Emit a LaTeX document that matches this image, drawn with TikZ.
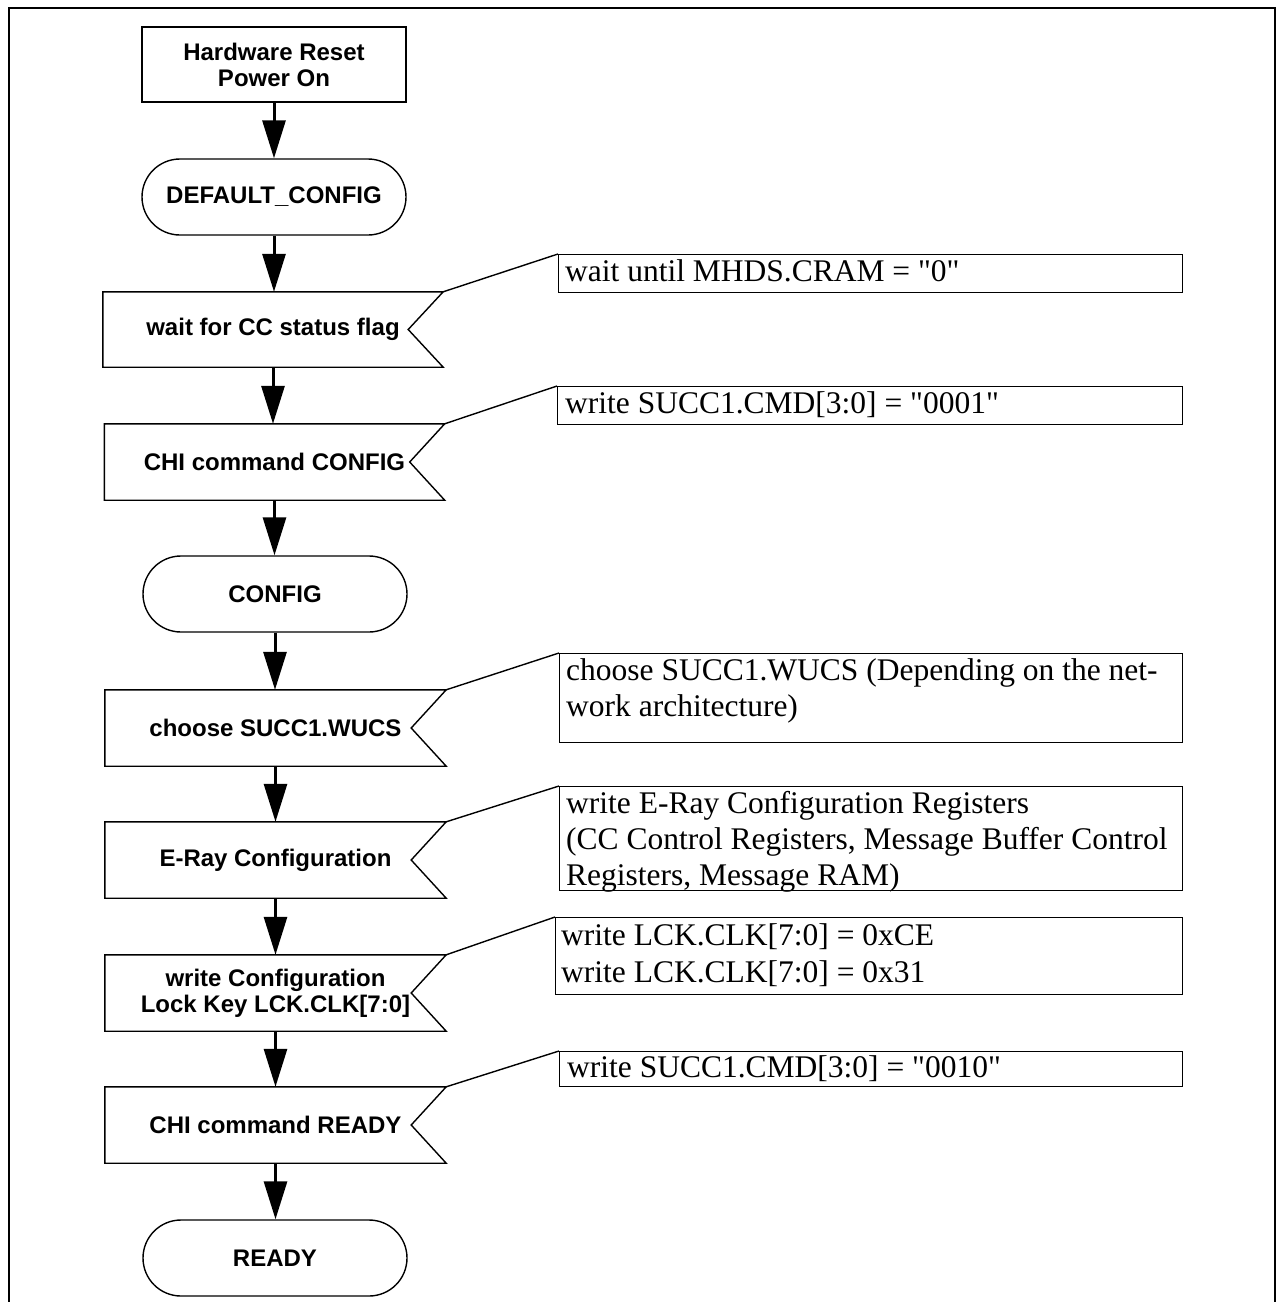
\documentclass[tikz,border=0pt]{standalone}
\usepackage{fontspec}
\setmainfont{Liberation Serif}
\newfontfamily\arialfont{Liberation Sans}
\usetikzlibrary{arrows.meta,shapes.misc}
\font\qtfont="Liberation Serif" at 31.5pt
\newcommand\dq{{\qtfont\char34}}
\begin{document}
\begin{tikzpicture}[x=1pt,y=-1pt,
  outline/.style={draw, line width=1.4pt},
  sansbold/.style={font=\arialfont\bfseries\fontsize{24}{26}\selectfont},
  procbox/.style={outline, sansbold, rectangle, minimum width=264pt, minimum height=75pt, inner sep=0pt, align=center},
  statebox/.style={outline, sansbold, rounded rectangle, minimum width=264pt, minimum height=76pt, inner sep=0pt},
  flagbox/.style={sansbold, rectangle, minimum width=341pt, minimum height=76pt, inner sep=0pt, align=center},
  flow/.style={line width=3pt, -{Triangle[length=38pt,width=23pt]}},
  calline/.style={line width=1.4pt},
  notebox/.style={outline, rectangle, anchor=north west, inner sep=0pt, minimum width=#1},
  notetext/.style={anchor=base west, inner sep=0pt, font=\fontsize{31.5}{36.5}\selectfont},
]
\useasboundingbox (0,0) rectangle (1276,1302);
% frame
\draw[line width=2pt] (9,1302) -- (9,8) -- (1275,8) -- (1275,1302);

% flow nodes
\node[procbox] (hw) at (274,64.5) {Hardware Reset\\Power On};
\node[statebox] (dflt) at (274,197) {DEFAULT\_CONFIG};
\node[flagbox, minimum width=340pt, minimum height=75pt] (f1) at (273,329.5) {wait for CC status flag};
\node[flagbox, minimum width=340pt] (f2) at (274.5,462) {CHI command CONFIG};
\node[statebox] (cfg) at (275,594) {CONFIG};
\node[flagbox] (f3) at (275.5,728) {choose SUCC1.WUCS};
\node[flagbox] (f4) at (275.5,860) {E-Ray Configuration};
\node[flagbox] (f5) at (275.5,993) {write Configuration\\Lock Key LCK.CLK[7:0]};
\node[flagbox] (f6) at (275.5,1125) {CHI command READY};
\node[statebox] (rdy) at (275,1258) {READY};

\foreach \f in {f1,f2,f3,f4,f5,f6}
  \draw[outline] (\f.north west) -- (\f.north east) -- ([xshift=-35pt]\f.east)
     -- (\f.south east) -- (\f.south west) -- cycle;

% arrows
\draw[flow] (hw.south) -- (hw.south |- dflt.north);
\draw[flow] (dflt.south) -- (dflt.south |- f1.north);
\draw[flow] (f1.south) -- (f1.south |- f2.north);
\draw[flow] (f2.south) -- (f2.south |- cfg.north);
\draw[flow] (cfg.south) -- (cfg.south |- f3.north);
\draw[flow] (f3.south) -- (f3.south |- f4.north);
\draw[flow] (f4.south) -- (f4.south |- f5.north);
\draw[flow] (f5.south) -- (f5.south |- f6.north);
\draw[flow] (f6.south) -- (f6.south |- rdy.north);

% note boxes
\node[notebox=624pt, minimum height=38pt] (n1) at (558,254) {};
\node[notetext] (n1a) at ([xshift=7pt,yshift=-27pt]n1.north west) {wait until MHDS.CRAM = \dq 0\dq};

\node[notebox=625pt, minimum height=38pt] (n2) at (557,386) {};
\node[notetext] (n2a) at ([xshift=8pt,yshift=-27pt]n2.north west) {write SUCC1.CMD[3:0] = \dq 0001\dq};

\node[notebox=623pt, minimum height=89pt] (n3) at (559,653) {};
\node[notetext] (n3a) at ([xshift=7pt,yshift=-27pt]n3.north west) {choose SUCC1.WUCS (Depending on the net-};
\node[notetext] (n3b) at ([xshift=7pt,yshift=-63.5pt]n3.north west) {work architecture)};

\node[notebox=623pt, minimum height=104pt] (n4) at (559,786) {};
\node[notetext] (n4a) at ([xshift=7pt,yshift=-27pt]n4.north west) {write E-Ray Configuration Registers};
\node[notetext] (n4b) at ([xshift=7pt,yshift=-63pt]n4.north west) {(CC Control Registers, Message Buffer Control};
\node[notetext] (n4c) at ([xshift=7pt,yshift=-99pt]n4.north west) {Registers, Message RAM)};

\node[notebox=627pt, minimum height=77pt] (n5) at (555,917) {};
\node[notetext] (n5a) at ([xshift=6pt,yshift=-28pt]n5.north west) {write LCK.CLK[7:0] = 0xCE};
\node[notetext] (n5b) at ([xshift=6pt,yshift=-65pt]n5.north west) {write LCK.CLK[7:0] = 0x31};

\node[notebox=623pt, minimum height=35pt] (n6) at (559,1051) {};
\node[notetext] (n6a) at ([xshift=8pt,yshift=-26pt]n6.north west) {write SUCC1.CMD[3:0] = \dq 0010\dq};

% callout lines
\draw[calline] (f1.north east) -- (n1.north west);
\draw[calline] (f2.north east) -- (n2.north west);
\draw[calline] (f3.north east) -- (n3.north west);
\draw[calline] (f4.north east) -- (n4.north west);
\draw[calline] (f5.north east) -- (n5.north west);
\draw[calline] (f6.north east) -- (n6.north west);
\end{tikzpicture}
\end{document}
